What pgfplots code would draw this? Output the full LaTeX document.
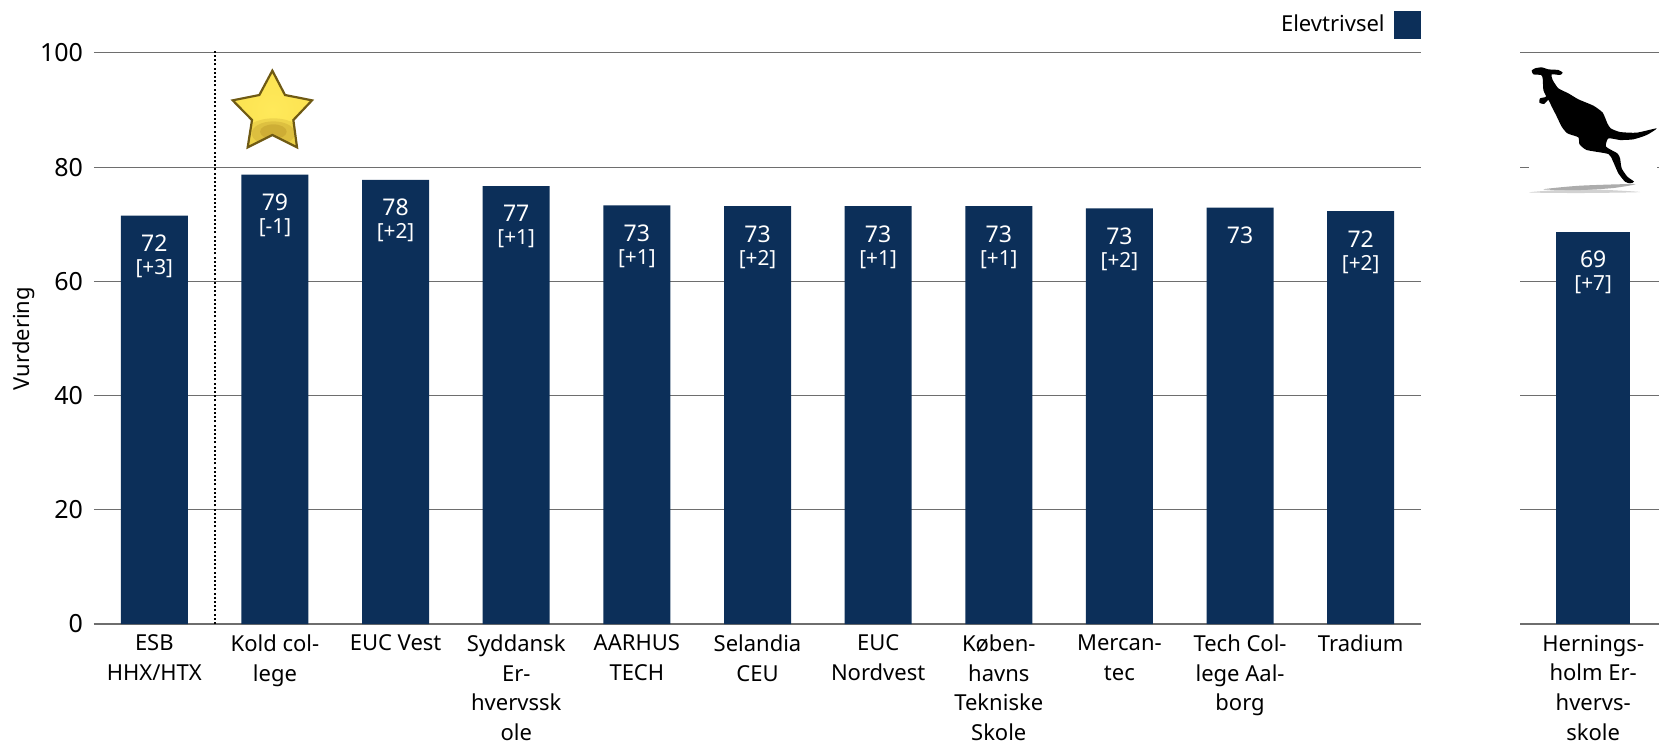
\documentclass[border=0pt]{standalone}
\usepackage{fontspec}
\setmainfont{Noto Sans}
\usepackage{pgfplots}
\usepackage{pgfplotstable}
\pgfplotsset{compat=1.18}
\definecolor{navy}{HTML}{0C2F59}
\definecolor{gridc}{HTML}{6E6E6E}
\definecolor{stargold}{HTML}{E8BE20}
\definecolor{staredge}{HTML}{6F5A14}
\definecolor{starspot}{HTML}{A8801C}
\definecolor{starlight}{HTML}{FFE95A}

% bar label: value, and the change in brackets below it
\protected\def\lab#1#2{#1\\[-1.5pt]{\fontsize{10.4}{12}\selectfont[#2]}}
\protected\def\labn#1{#1}

\pgfplotstableread{
x y lab
0 71.5 \lab{72}{+3}
1 78.7 \lab{79}{-1}
2 77.8 \lab{78}{+2}
3 76.7 \lab{77}{+1}
4 73.3 \lab{73}{+1}
5 73.2 \lab{73}{+2}
6 73.2 \lab{73}{+1}
7 73.2 \lab{73}{+1}
8 72.8 \lab{73}{+2}
9 72.9 \labn{73}
10 72.3 \lab{72}{+2}
}\maintable

\pgfplotstableread{
x y lab
0 68.7 \lab{69}{+7}
}\sidetable

\pgfplotsset{
  barchart/.style={
    at={(#1)}, anchor=south west,
    scale only axis, height=285.5pt,
    ymin=0, ymax=100, ytick={0,20,...,100},
    xtick=data,
    axis x line=bottom, axis y line=left,
    x axis line style={-, color=gridc, line width=0.5pt},
    y axis line style={draw=none},
    tick style={draw=none},
    major tick length=0pt,
    ymajorgrids, grid style={color=gridc, line width=0.5pt},
    xticklabel style={font=\fontsize{11}{14.8}\selectfont, align=center, yshift=-2pt},
    yticklabel style={font=\fontsize{12.5}{14}\selectfont, xshift=-2pt},
    /pgf/number format/assume math mode=true,
    ybar, bar width=33.5pt,
    clip=false,
  },
  valbars/.style={
    fill=navy, draw=none,
    point meta=explicit symbolic,
    nodes near coords,
    every node near coord/.append style={anchor=north, align=center, text=white,
      font=\fontsize{11.5}{13}\selectfont, inner sep=0pt, yshift=-9.5pt},
  },
}

\begin{document}
\begin{tikzpicture}[x=0.5pt,y=0.5pt]
\useasboundingbox (0,0) rectangle (1659,744);

\begin{axis}[
  barchart={94*0.5pt,120*0.5pt},
  width=663.5pt,
  xmin=-0.5, xmax=10.5,
  xticklabels={{ESB\\HHX/HTX},{Kold col-\\lege},{EUC Vest},{Syddansk\\Er-\\hvervssk\\ole},{AARHUS\\TECH},{Selandia\\CEU},{EUC\\Nordvest},{Køben-\\havns\\Tekniske\\Skole},{Mercan-\\tec},{Tech Col-\\lege Aal-\\borg},{Tradium}},
  ylabel={Vurdering},
  ylabel style={font=\fontsize{11}{13}\selectfont, at={(axis description cs:0,0.5)}, anchor=south, yshift=26pt},
  legend plot pos=right,
  legend style={draw=none, fill=none, at={(1,1)}, anchor=south east, yshift=7pt,
    font=\fontsize{11}{13}\selectfont, inner sep=0pt},
  legend image code/.code={\path (0pt,0pt); \fill[navy] (2.5pt,-7pt) rectangle (16pt,7pt);},
]
\addplot[valbars] table[x=x,y=y,meta=lab] {\maintable};
\addlegendentry{Elevtrivsel}
\addplot[black, line width=1pt, dash pattern=on 1pt off 1.1pt, no markers, forget plot, sharp plot] coordinates {(0.5,0) (0.5,100.6)};
\end{axis}

\begin{axis}[
  barchart={1520.4*0.5pt,120*0.5pt},
  width=69.3pt,
  bar width=37pt,
  xmin=-0.605, xmax=0.547,
  yticklabels={},
  xticklabels={{Hernings-\\holm Er-\\hvervs-\\skole}},
]
\addplot[valbars] table[x=x,y=y,meta=lab] {\sidetable};
\end{axis}

% star picture
\begin{scope}[shift={(200,704)}, x=0.1667pt, y=-0.1667pt]
  \begin{scope}
    \clip (217,92)--(255,165)--(336,181)--(280,240)--(291,322)--(217,285)--(143,322)--(156,240)--(98,181)--(178,165)--cycle;
    \shade[inner color=starlight, outer color=stargold] (217,210) circle[radius=130pt];
    \fill[starspot, opacity=0.18] (220,285) ellipse[x radius=90, y radius=50];
    \fill[starspot, opacity=0.22] (220,280) ellipse[x radius=65, y radius=36];
    \fill[starspot, opacity=0.28] (220,275) ellipse[x radius=40, y radius=22];
  \end{scope}
  \draw[line width=1.1pt, color=staredge, line join=miter] (217,92)--(255,165)--(336,181)--(280,240)--(291,322)--(217,285)--(143,322)--(156,240)--(98,181)--(178,165)--cycle;
\end{scope}

% kangaroo picture, white backing hides the gridline
\fill[white] (1529,744-60) rectangle (1657,744-195);
\begin{scope}[shift={(1480,704)}, x=0.1667pt, y=-0.1667pt]
  \fill[black] plot[smooth cycle, tension=0.35] coordinates {
    (155,92) (165,85) (185,82) (205,88) (235,90) (248,98) (240,105) (215,103) (218,120)
    (235,145) (265,160) (295,178) (340,197) (368,218) (382,250) (392,265) (420,276)
    (470,278) (530,265) (500,285) (460,298) (420,300) (385,295) (378,320) (412,340)
    (420,355) (425,385) (442,410) (462,425) (450,430) (435,425) (415,400) (398,362)
    (385,342) (320,330) (298,312) (295,292) (262,280) (245,260) (228,225) (215,200)
    (205,180) (192,192) (178,188) (180,175) (198,170) (190,150) (188,115) (183,105) (160,103)};
  \fill[gray!35] plot[smooth cycle, tension=0.4] coordinates {
    (147,457) (300,447) (480,456) (300,459)};
  \fill[gray!65] plot[smooth cycle, tension=0.4] coordinates {
    (190,448) (300,437) (465,432) (400,444) (300,450)};
\end{scope}
\end{tikzpicture}
\end{document}
